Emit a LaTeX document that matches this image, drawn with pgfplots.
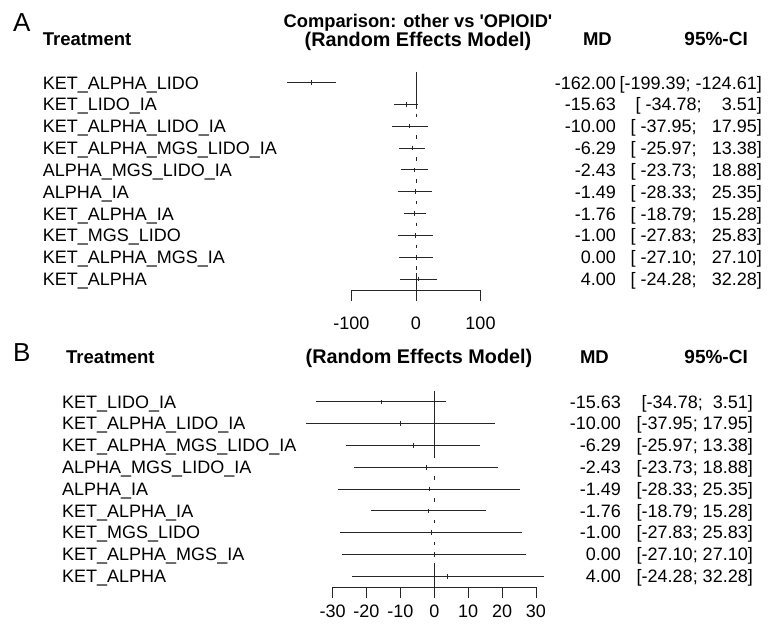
\documentclass[border=0pt]{standalone}
\usepackage{pgfplots}
\pgfplotsset{compat=1.18}
\usepackage{pgfplotstable}
\usepackage{fontspec}
\setmainfont{Liberation Sans}

\pgfplotstableread{
row md lo hi
-1 -162.00 -199.39 -124.61
-2 -15.63 -34.78 3.51
-3 -10.00 -37.95 17.95
-4 -6.29 -25.97 13.38
-5 -2.43 -23.73 18.88
-6 -1.49 -28.33 25.35
-7 -1.76 -18.79 15.28
-8 -1.00 -27.83 25.83
-9 0.00 -27.10 27.10
-10 4.00 -24.28 32.28
}\dataA

\pgfplotstableread{
row md lo hi
-1 -15.63 -34.78 3.51
-2 -10.00 -37.95 17.95
-3 -6.29 -25.97 13.38
-4 -2.43 -23.73 18.88
-5 -1.49 -28.33 25.35
-6 -1.76 -18.79 15.28
-7 -1.00 -27.83 25.83
-8 0.00 -27.10 27.10
-9 4.00 -24.28 32.28
}\dataB

\colorlet{ink}{black!85}
\pgfplotsset{fp/.style={scale only axis, clip=false,
  axis y line=none, axis x line*=bottom, x axis line style={draw=none},
  xtick align=outside, major tick length=11pt,
  tick style={ink, line width=0.8pt},
  /pgf/number format/assume math mode=true,
  xticklabel style={font=\fontsize{18pt}{21pt}\selectfont, text=black}},
  ci/.style={ink, line width=0.8pt, mark=|, mark size=2.3pt, only marks,
  mark options={line width=0.8pt},
  error bars/.cd, x dir=both, x explicit, error mark=none,
  error bar style={line width=0.8pt, ink}}}

\begin{document}
\begin{tikzpicture}[font=\fontsize{18pt}{21pt}\selectfont]
\path[use as bounding box] (0,0) rectangle (771pt,-631pt);

% ---------- Panel A ----------
\begin{axis}[fp, at={(280.55pt,-290pt)}, anchor=south west,
  width=206.4pt, height=218.4pt, xmin=-210, xmax=110, ymin=-10.5, ymax=-0.5,
  xtick={-100,0,100}, xticklabel style={yshift=-12pt}]
\addplot[ci] table[x=md, y=row, x error plus expr=\thisrow{hi}-\thisrow{md},
  x error minus expr=\thisrow{md}-\thisrow{lo}] {\dataA};
\draw[ink, line width=0.8pt] (axis cs:0,-0.5) -- (axis cs:0,-2.2);
\pgfplotsinvokeforeach{2.5,3.5,4.5,5.5,6.5,7.5,8.5,9.5}{
  \draw[ink, line width=0.8pt] (axis cs:0,{-#1+0.08}) -- (axis cs:0,{-#1-0.08});}
\draw[ink, line width=0.8pt] (axis cs:0,-9.73) -- (axis cs:0,-10.5);
\draw[ink, line width=0.8pt] (axis cs:-100,-10.5) -- (axis cs:100,-10.5);
\end{axis}

% ---------- Panel B ----------
\begin{axis}[fp, at={(298.7pt,-587.1pt)}, anchor=south west,
  width=271.2pt, height=196.2pt, xmin=-40, xmax=40, ymin=-9.5, ymax=-0.5,
  xtick={-30,-20,...,30}, xticklabel style={yshift=-3pt}]
\addplot[ci] table[x=md, y=row, x error plus expr=\thisrow{hi}-\thisrow{md},
  x error minus expr=\thisrow{md}-\thisrow{lo}] {\dataB};
\draw[ink, line width=0.8pt] (axis cs:0,-0.5) -- (axis cs:0,-3.6);
\pgfplotsinvokeforeach{4.5,5.5,6.5,7.5}{
  \draw[ink, line width=0.8pt] (axis cs:0,{-#1+0.08}) -- (axis cs:0,{-#1-0.08});}
\draw[ink, line width=0.8pt] (axis cs:0,-8.4) -- (axis cs:0,-9.5);
\draw[ink, line width=0.8pt] (axis cs:-30,-9.5) -- (axis cs:30,-9.5);
\end{axis}

% ---------- Text A ----------
\node[anchor=base west, inner sep=0, font=\fontsize{26pt}{30pt}\selectfont] at (13pt,-32pt) {A};
\node[anchor=base west, inner sep=0, font=\fontsize{18.5pt}{21pt}\selectfont\bfseries] at (42.7pt,-46pt) {Treatment};
\node[anchor=base, inner sep=0, font=\fontsize{18.3pt}{21pt}\selectfont\bfseries] at (418pt,-28pt) {Comparison: other vs \textquotesingle OPIOID\textquotesingle};
\node[anchor=base, inner sep=0, font=\fontsize{19.8pt}{21pt}\selectfont\bfseries] at (418pt,-46.5pt) {(Random Effects Model)};
\node[anchor=base east, inner sep=0, font=\fontsize{18.5pt}{21pt}\selectfont\bfseries] at (612pt,-46pt) {MD};
\node[anchor=base east, inner sep=0, font=\fontsize{19pt}{21pt}\selectfont\bfseries] at (748pt,-46pt) {95\%-CI};

\foreach \nm/\md/\ci [count=\i] in {
  KET\_ALPHA\_LIDO/-162.00/{[-199.39;~-124.61]},
  KET\_LIDO\_IA/-15.63/{[~-34.78;~~~~3.51]},
  KET\_ALPHA\_LIDO\_IA/-10.00/{[~-37.95;~~~17.95]},
  KET\_ALPHA\_MGS\_LIDO\_IA/-6.29/{[~-25.97;~~~13.38]},
  ALPHA\_MGS\_LIDO\_IA/-2.43/{[~-23.73;~~~18.88]},
  ALPHA\_IA/-1.49/{[~-28.33;~~~25.35]},
  KET\_ALPHA\_IA/-1.76/{[~-18.79;~~~15.28]},
  KET\_MGS\_LIDO/-1.00/{[~-27.83;~~~25.83]},
  KET\_ALPHA\_MGS\_IA/0.00/{[~-27.10;~~~27.10]},
  KET\_ALPHA/4.00/{[~-24.28;~~~32.28]}}{
  \pgfmathsetmacro\yy{-(82.7+21.84*(\i-1))-6.4}
  \node[anchor=base west, inner sep=0] at (42.7pt,\yy pt) {\nm};
  \node[anchor=base east, inner sep=0] at (616pt,\yy pt) {\md};
  \node[anchor=base east, inner sep=0] at (762pt,\yy pt) {\ci};
}

% ---------- Text B ----------
\node[anchor=base west, inner sep=0, font=\fontsize{26pt}{30pt}\selectfont] at (13pt,-361pt) {B};
\node[anchor=base west, inner sep=0, font=\fontsize{18.5pt}{21pt}\selectfont\bfseries] at (66pt,-363pt) {Treatment};
\node[anchor=base, inner sep=0, font=\fontsize{19.8pt}{21pt}\selectfont\bfseries] at (419pt,-363pt) {(Random Effects Model)};
\node[anchor=base east, inner sep=0, font=\fontsize{18.5pt}{21pt}\selectfont\bfseries] at (609pt,-363pt) {MD};
\node[anchor=base east, inner sep=0, font=\fontsize{19pt}{21pt}\selectfont\bfseries] at (748pt,-363pt) {95\%-CI};

\foreach \nm/\md/\ci [count=\i] in {
  KET\_LIDO\_IA/-15.63/{[-34.78;~~3.51]},
  KET\_ALPHA\_LIDO\_IA/-10.00/{[-37.95;~17.95]},
  KET\_ALPHA\_MGS\_LIDO\_IA/-6.29/{[-25.97;~13.38]},
  ALPHA\_MGS\_LIDO\_IA/-2.43/{[-23.73;~18.88]},
  ALPHA\_IA/-1.49/{[-28.33;~25.35]},
  KET\_ALPHA\_IA/-1.76/{[-18.79;~15.28]},
  KET\_MGS\_LIDO/-1.00/{[-27.83;~25.83]},
  KET\_ALPHA\_MGS\_IA/0.00/{[-27.10;~27.10]},
  KET\_ALPHA/4.00/{[-24.28;~32.28]}}{
  \pgfmathsetmacro\yy{-(401.7+21.8*(\i-1))-6.4}
  \node[anchor=base west, inner sep=0] at (62pt,\yy pt) {\nm};
  \node[anchor=base east, inner sep=0] at (621pt,\yy pt) {\md};
  \node[anchor=base east, inner sep=0] at (753pt,\yy pt) {\ci};
}
\end{tikzpicture}
\end{document}
